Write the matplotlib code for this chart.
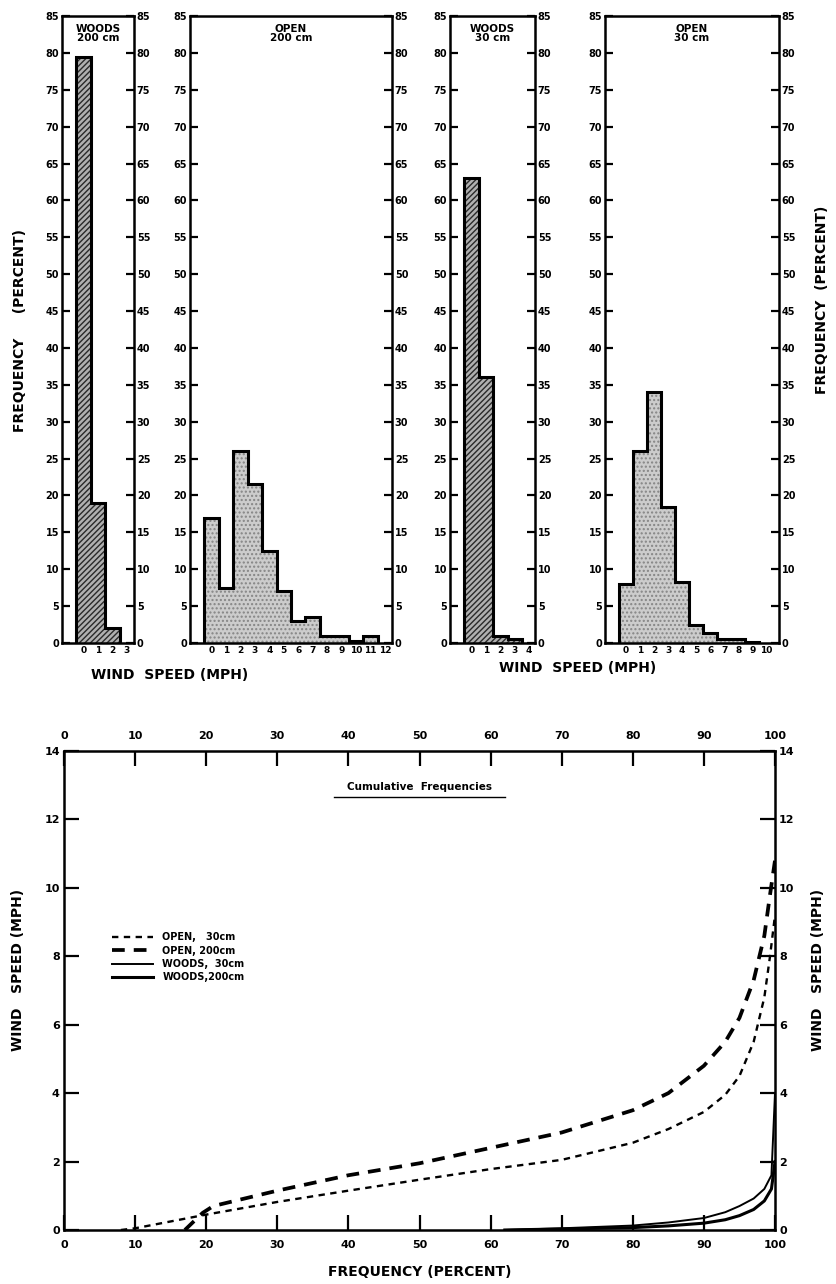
import numpy as np
import matplotlib.pyplot as plt
from matplotlib.lines import Line2D

plt.rcParams['font.family'] = 'DejaVu Sans'
plt.rcParams['font.weight'] = 'bold'
plt.rcParams['hatch.linewidth'] = 1.0

# frequency (percent) per 1-mph wind speed class
woods200 = [79.5, 19.0, 2.0]
open200 = [17.0, 7.5, 26.0, 21.5, 12.5, 7.0, 3.0, 3.5, 1.0, 1.0, 0.3, 1.0]
woods30 = [63.0, 36.0, 1.0, 0.5]
open30 = [8.0, 26.0, 34.0, 18.5, 8.3, 2.5, 1.3, 0.5, 0.5, 0.1]

woods200_labels = ['0', '1', '2', '3']
open200_labels = ['0', '1', '2', '3', '4', '5', '6', '7', '8', '9', '10', '11', '12']
woods30_labels = ['0', '1', '2', '3', '4']
open30_labels = ['0', '1', '2', '3', '4', '5', '6', '7', '8', '9', '10']

# cumulative frequency (percent) vs wind speed (mph)
open30_pct = [8, 10, 15, 20, 30, 40, 50, 60, 70, 80, 85, 90, 93, 95, 97, 98.5, 99.3, 100]
open30_mph = [0, 0.05, 0.25, 0.45, 0.82, 1.15, 1.47, 1.78, 2.05, 2.55, 2.95, 3.45, 3.95,
              4.5, 5.5, 6.8, 8.0, 9.2]
open200_pct = [17, 19.5, 21, 25, 30, 40, 50, 60, 70, 80, 85, 90, 93, 95, 97, 98.5, 99.3, 100]
open200_mph = [0, 0.5, 0.7, 0.9, 1.15, 1.6, 1.95, 2.4, 2.85, 3.5, 4.0, 4.8, 5.5, 6.2, 7.3,
               8.6, 9.8, 10.8]
woods30_pct = [62, 70, 80, 85, 90, 93, 95, 97, 98.5, 99.5, 100]
woods30_mph = [0, 0.05, 0.13, 0.22, 0.35, 0.52, 0.7, 0.92, 1.2, 1.6, 4.0]
woods200_pct = [62, 70, 80, 85, 90, 93, 95, 97, 98.5, 99.5, 100]
woods200_mph = [0, 0.03, 0.07, 0.12, 0.2, 0.3, 0.42, 0.6, 0.85, 1.2, 2.0]

W, H = 836, 1284
fig = plt.figure(figsize=(W / 100, H / 100), dpi=100)


def box(x0, x1, y0, y1):
    return [x0 / W, 1 - y1 / H, (x1 - x0) / W, (y1 - y0) / H]


def label(x, y, s, rot=0, size=10):
    fig.text(x / W, 1 - y / H, s, rotation=rot, ha='center', va='center',
             fontsize=size, fontweight='bold')


def histo(rect, vals, labels, xmax, title, woods):
    ax = fig.add_axes(rect)
    edges = np.arange(len(vals) + 1)
    if woods:
        ax.bar(edges[:-1], vals, width=1, align='edge', facecolor='#b0b0b0',
               edgecolor='#2a2a2a', hatch='//////', linewidth=0)
    else:
        ax.bar(edges[:-1], vals, width=1, align='edge', facecolor='#cccccc',
               edgecolor='#858585', hatch='....', linewidth=0)
    ax.stairs(vals, edges, baseline=0, color='black', linewidth=2.2)
    ax.set_xlim(-1, xmax)
    ax.set_ylim(0, 85)
    ax.set_yticks(np.arange(0, 86, 5))
    ax.set_xticks(np.arange(len(labels)) + 0.5, labels)
    ax.tick_params(axis='y', direction='in', length=6, width=1.6, left=True, right=True,
                   labelleft=True, labelright=True, labelsize=7, pad=2)
    ax.tick_params(axis='x', length=0, labelsize=6.5, pad=2)
    for s in ax.spines.values():
        s.set_linewidth(1.8)
    ax.text(0.5, 0.988, title, transform=ax.transAxes, ha='center', va='top',
            fontsize=7.5, fontweight='bold', linespacing=0.95)
    return ax


histo(box(62, 134, 16, 643), woods200, woods200_labels, 4, 'WOODS\n200 cm', True)
histo(box(190, 392, 16, 643), open200, open200_labels, 13, 'OPEN\n200 cm', False)
histo(box(450, 535, 16, 643), woods30, woods30_labels, 4.9, 'WOODS\n30 cm', True)
histo(box(605, 779, 16, 643), open30, open30_labels, 11.4, 'OPEN\n30 cm', False)

label(20, 331, 'FREQUENCY     (PERCENT)', rot=90)
label(822, 300, 'FREQUENCY  (PERCENT)', rot=90)
label(170, 675, 'WIND  SPEED (MPH)')
label(578, 668, 'WIND  SPEED (MPH)')

# cumulative frequency curves
ax = fig.add_axes(box(64, 775, 751, 1230))
ax.plot(open30_pct, open30_mph, color='black', linewidth=1.7, dashes=(2.7, 2.3),
        label='OPEN,   30cm')
ax.plot(open200_pct, open200_mph, color='black', linewidth=2.7, dashes=(3.4, 2.4),
        label='OPEN, 200cm')
ax.plot(woods30_pct, woods30_mph, color='black', linewidth=1.4, label='WOODS,  30cm')
ax.plot(woods200_pct, woods200_mph, color='black', linewidth=2.2, label='WOODS,200cm')
ax.set_xlim(0, 100)
ax.set_ylim(0, 14)
ax.set_xticks(np.arange(0, 101, 10))
ax.set_yticks(np.arange(0, 15, 2))
ax.tick_params(direction='in', length=11, width=1.6, top=True, right=True,
               labeltop=True, labelright=True, labelsize=8, pad=3)
ax.tick_params(axis='x', pad=7)
for s in ax.spines.values():
    s.set_linewidth(1.8)
label(420, 1272, 'FREQUENCY (PERCENT)', size=10)
label(18, 970, 'WIND   SPEED (MPH)', rot=90)
label(818, 970, 'WIND   SPEED (MPH)', rot=90)
ax.text(0.5, 0.915, 'Cumulative  Frequencies', transform=ax.transAxes, ha='center',
        va='bottom', fontsize=7.5, fontweight='bold')
ax.add_line(Line2D([0.38, 0.62], [0.905, 0.905], transform=ax.transAxes,
                   color='black', linewidth=1.0))
ax.legend(loc='upper left', bbox_to_anchor=(0.055, 0.64), frameon=False, fontsize=7,
          handlelength=4.2, labelspacing=0.35, handletextpad=1.0)

fig.savefig('out.png', dpi=100)
